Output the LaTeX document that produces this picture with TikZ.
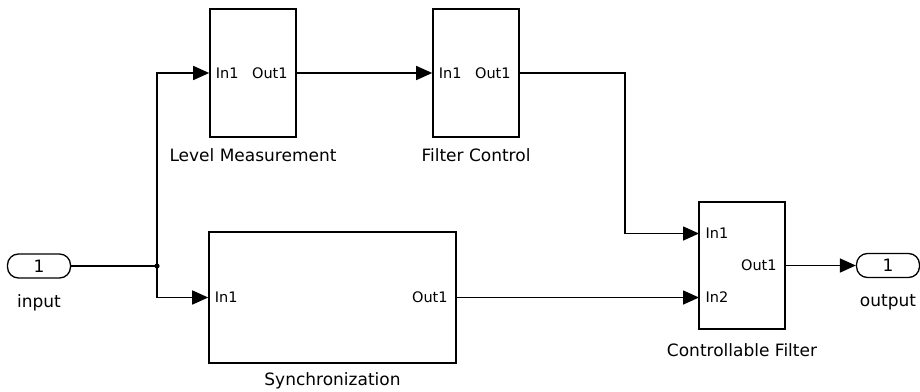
\documentclass[tikz,border=0pt]{standalone}
\usepackage{fontspec}
\setmainfont{DejaVu Sans}
\usetikzlibrary{arrows.meta,positioning}
\tikzset{
  blk/.style={draw,line width=1.6pt,minimum width=86pt,minimum height=128pt,inner sep=0pt},
  iop/.style={draw,line width=1.3pt,rounded corners=11pt,minimum width=63pt,minimum height=24pt,inner sep=0pt,font=\fontsize{17}{20}\selectfont},
  plbl/.style={inner sep=6.5pt,font=\fontsize{14.5}{17}\selectfont},
  nm/.style={inner sep=0pt,font=\fontsize{17}{20}\selectfont},
  ln/.style={line width=1.6pt},
  ar/.style={ln,-{Triangle[length=16pt,width=14pt]}},
}
\begin{document}
\begin{tikzpicture}[x=1pt,y=-1pt]
\useasboundingbox (0,0) rectangle (920,391);
\node[iop] (in) at (39,266) {1};
\node[nm,below=16pt of in] (inlbl) {input};
\node[blk] (lm) at (253,73) {};
\node[blk] (fc) at (476,73) {};
\node[blk,minimum width=247pt,minimum height=131pt] (sy) at (332.5,297.5) {};
\node[blk,minimum height=127pt] (cf) at (742,265.5) {};
\node[iop] (out) at (888,265.5) {1};
\node[nm,below=16pt of out] (outlbl) {output};
\node[nm,below=11pt of lm] (lmlbl) {Level Measurement};
\node[nm,below=11pt of fc] (fclbl) {Filter Control};
\node[nm,below=9pt of sy] (sylbl) {Synchronization};
\node[nm,below=14pt of cf] (cflbl) {Controllable Filter};
\node[plbl,anchor=west] (lmi) at (lm.west) {In1};
\node[plbl,anchor=east,inner sep=9pt] (lmo) at (lm.east) {Out1};
\node[plbl,anchor=west] (fci) at (fc.west) {In1};
\node[plbl,anchor=east,inner sep=9pt] (fco) at (fc.east) {Out1};
\node[plbl,anchor=west] (syi) at (sy.west) {In1};
\node[plbl,anchor=east,inner sep=9pt] (syo) at (sy.east) {Out1};
\node[plbl,anchor=west] (cfi1) at (699,233.5) {In1};
\node[plbl,anchor=west] (cfi2) at (699,297.5) {In2};
\node[plbl,anchor=east,inner sep=9pt] (cfo) at (cf.east) {Out1};
\coordinate (j) at (157,266);
\coordinate (bend) at (625,73);
\draw[ln] (in.east) -- (j);
\fill (j) circle (2.6pt);
\draw[ar] (j) |- (lmi.west);
\draw[ar] (j) |- (syi.west);
\draw[ar] (lmo.east) -- (fci.west);
\draw[ar] (fco.east) -- (bend) |- (cfi1.west);
\draw[ar] (syo.east) -- (cfi2.west);
\draw[ar] (cfo.east) -- (out.west);
\end{tikzpicture}
\end{document}
